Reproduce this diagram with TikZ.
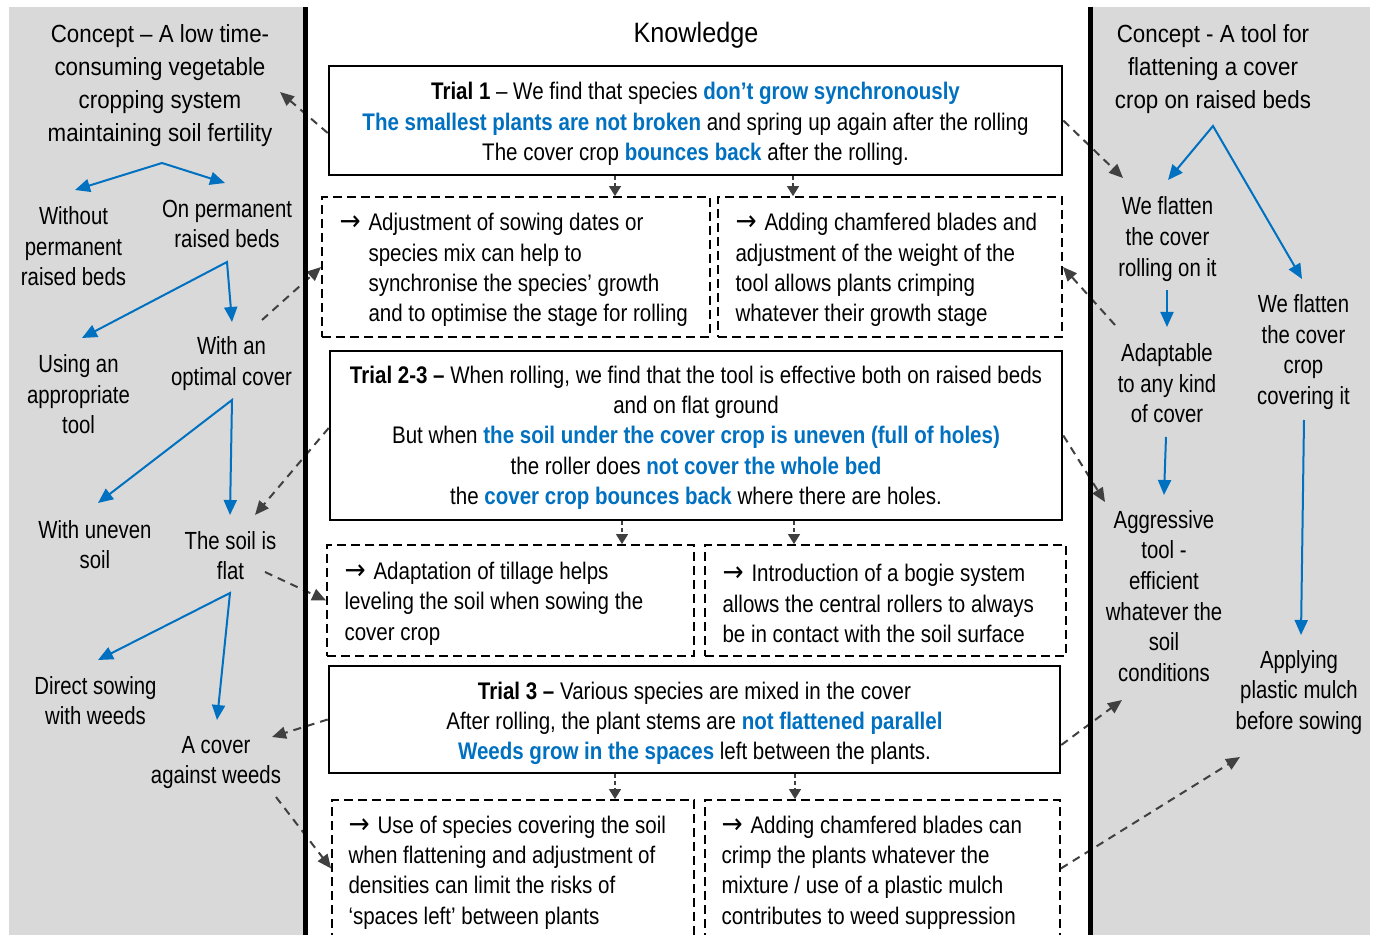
\documentclass[tikz,border=0pt]{standalone}
\usepackage{fontspec}
\setmainfont{Liberation Sans}[FakeStretch=0.855]
\newfontfamily\panf{Liberation Sans}[FakeStretch=0.82]
\newfontfamily\conf{Liberation Sans}[FakeStretch=0.9]
\newfontfamily\symf{DejaVu Sans}[FakeStretch=0.9]
\usetikzlibrary{arrows.meta,calc}
\definecolor{kblue}{HTML}{0070C0}
\definecolor{pgray}{HTML}{D9D9D9}
\definecolor{cgray}{HTML}{404040}
\newcommand\hb[1]{\textcolor{kblue}{\textbf{#1}}}
\newcommand\ra{\makebox[14.5pt][l]{\symf\fontsize{14}{14}\selectfont →}}
\newcommand\ind{\hspace*{14.5pt}}
\begin{document}
\begin{tikzpicture}[x=0.5pt,y=-0.5pt,
  barrow/.style={draw=kblue, line width=1pt, line join=miter, {Triangle[length=7.5pt,width=6.5pt]}-{Triangle[length=7.5pt,width=6.5pt]}},
  sarrow/.style={draw=kblue, line width=1pt, -{Triangle[length=7.5pt,width=6.5pt]}},
  conn/.style={draw=cgray, line width=1pt, dash pattern=on 4pt off 3pt, -{Triangle[length=7pt,width=6pt]}},
  down/.style={draw=cgray, line width=0.6pt, dash pattern=on 2pt off 1.5pt, -{Triangle[length=5pt,width=6pt]}},
  trialbox/.style={draw=black, line width=1.3pt, inner sep=0},
  ttext/.style={align=center, inner sep=0, font=\fontsize{12}{15.15}\selectfont},
  dbox/.style={draw=black, line width=0.9pt, dash pattern=on 4.5pt off 2.5pt, inner sep=0},
  btext/.style={anchor=west, align=left, inner sep=0, font=\fontsize{12}{15.15}\selectfont},
  ptext/.style={align=center, inner sep=0, font=\panf\fontsize{12.4}{15.3}\selectfont},
  ctext/.style={align=center, inner sep=0, font=\conf\fontsize{12.4}{16.5}\selectfont}]
\useasboundingbox (0,0) rectangle (1378,935);
\clip (0,0) rectangle (1378,935);
\fill[white] (0,0) rectangle (1378,935);
\fill[pgray] (9,7) rectangle (305,935);
\fill[pgray] (1090,7) rectangle (1370,935);

% centre column
\node[ctext, font=\conf\fontsize{14}{16}\selectfont] (know) at (696,35) {Knowledge};

\node[trialbox, minimum width=366.5pt, minimum height=54.5pt] (t1) at (695.5,120.5) {};
\node[ttext] (t1t) at ([shift={(0,3.5)}]t1.center)
 {\textbf{Trial 1} – We find that species \hb{don’t grow synchronously}\\
  \hb{The smallest plants are not broken} and spring up again after the rolling\\
  The cover crop \hb{bounces back} after the rolling.};

\node[dbox, minimum width=194pt, minimum height=70pt] (a1) at (516,267) {};
\node[btext] (a1t) at ([shift={(18,3)}]a1.west)
 {\ra Adjustment of sowing dates or\\\ind species mix can help to\\\ind synchronise the species' growth\\\ind and to optimise the stage for rolling};
\node[dbox, minimum width=172pt, minimum height=70pt] (a2) at (890,267) {};
\node[btext] (a2t) at ([shift={(18,3)}]a2.west)
 {\ra Adding chamfered blades and\\adjustment of the weight of the\\tool allows plants crimping\\whatever their growth stage};

\node[trialbox, minimum width=366pt, minimum height=84.5pt] (t2) at (696,435.5) {};
\node[ttext] (t2t) at ([shift={(0,2)}]t2.center)
 {\textbf{Trial 2-3 –} When rolling, we find that the tool is effective both on raised beds\\
  and on flat ground\\
  But when \hb{the soil under the cover crop is uneven (full of holes)}\\
  the roller does \hb{not cover the whole bed}\\
  the \hb{cover crop bounces back} where there are holes.};

\node[dbox, minimum width=183.5pt, minimum height=55.5pt] (b1) at (510.5,600.5) {};
\node[btext] (b1t) at ([shift={(18,3)}]b1.west)
 {\ra Adaptation of tillage helps\\leveling the soil when sowing the\\cover crop};
\node[dbox, minimum width=180.5pt, minimum height=55.5pt] (b2) at (885.5,600.5) {};
\node[btext] (b2t) at ([shift={(18,3)}]b2.west)
 {\ra Introduction of a bogie system\\allows the central rollers to always\\be in contact with the soil surface};

\node[trialbox, minimum width=365.5pt, minimum height=53.5pt] (t3) at (694.5,719.5) {};
\node[ttext] (t3t) at ([shift={(0,4)}]t3.center)
 {\textbf{Trial 3 –} Various species are mixed in the cover\\
  After rolling, the plant stems are \hb{not flattened parallel}\\
  \hb{Weeds grow in the spaces} left between the plants.};

\node[dbox, minimum width=181pt, minimum height=68.5pt] (c1) at (513,868.5) {};
\node[btext] (c1t) at ([shift={(17,4)}]c1.west)
 {\ra Use of species covering the soil\\when flattening and adjustment of\\densities can limit the risks of\\‘spaces left’ between plants};
\node[dbox, minimum width=177.5pt, minimum height=68.5pt] (c2) at (882.5,868.5) {};
\node[btext] (c2t) at ([shift={(17,4)}]c2.west)
 {\ra Adding chamfered blades can\\crimp the plants whatever the\\mixture / use of a plastic mulch\\contributes to weed suppression};

% left panel texts
\node[ctext] (concL) at (160,86) {Concept – A low time-\\consuming vegetable\\cropping system\\maintaining soil fertility};
\node[ptext] (without) at (73.5,246.5) {Without\\permanent\\raised beds};
\node[ptext] (onperm) at (227,224) {On permanent\\raised beds};
\node[ptext] (using) at (78.5,394.5) {Using an\\appropriate\\tool};
\node[ptext] (optimal) at (231.5,363.5) {With an\\optimal cover};
\node[ptext] (uneven) at (95,544.5) {With uneven\\soil};
\node[ptext] (flat) at (230.5,555.5) {The soil is\\flat};
\node[ptext] (direct) at (95.5,700.5) {Direct sowing\\with weeds};
\node[ptext] (acover) at (216,762.5) {A cover\\against weeds};

% right panel texts
\node[ctext] (concR) at (1213,69.5) {Concept - A tool for\\flattening a cover\\crop on raised beds};
\node[ptext] (flat1) at (1167.5,239) {We flatten\\the cover\\rolling on it};
\node[ptext] (adapt) at (1167,383.5) {Adaptable\\to any kind\\of cover};
\node[ptext] (aggr) at (1164,596) {Aggressive\\tool -\\efficient\\whatever the\\soil\\conditions};
\node[ptext] (flat2) at (1303.5,352) {We flatten\\the cover\\crop\\covering it};
\node[ptext] (apply) at (1299,692.5) {Applying\\plastic mulch\\before sowing};

% blue arrows
\draw[barrow] ([shift={(1.5,-56.5)}]without.center) -- ([shift={(2,77)}]concL.center) -- ([shift={(-2,-41)}]onperm.center);
\draw[barrow] ([shift={(3.5,-56.5)}]using.center) -- ([shift={(0,38)}]onperm.center) -- ([shift={(0.5,-41.5)}]optimal.center);
\draw[barrow] ([shift={(3,-41.5)}]uneven.center) -- ([shift={(0.5,36.5)}]optimal.center) -- ([shift={(-0.5,-40.5)}]flat.center);
\draw[barrow] ([shift={(2.5,-40.5)}]direct.center) -- ([shift={(-0.5,37.5)}]flat.center) -- ([shift={(1,-42.5)}]acover.center);
\draw[barrow] ([shift={(0.5,-59)}]flat1.center) -- ([shift={(0,56.5)}]concR.center) -- ([shift={(-1.5,-73)}]flat2.center);
\draw[sarrow] ([shift={(-0.5,51)}]flat1.center) -- ([shift={(0,-56.5)}]adapt.center);
\draw[sarrow] ([shift={(-1,53.5)}]adapt.center) -- ([shift={(0,-101)}]aggr.center);
\draw[sarrow] ([shift={(0.5,68)}]flat2.center) -- ([shift={(2,-57.5)}]apply.center);

% small downward arrows
\draw[down] ([shift={(-80.5,0)}]t1.south) -- ([shift={(99,0)}]a1.north);
\draw[down] ([shift={(97.5,0)}]t1.south) -- ([shift={(-97,0)}]a2.north);
\draw[down] ([shift={(-74,0)}]t2.south) -- ([shift={(111.5,0)}]b1.north);
\draw[down] ([shift={(98,0)}]t2.south) -- ([shift={(-91.5,0)}]b2.north);
\draw[down] ([shift={(-79.5,0)}]t3.south) -- ([shift={(102,0)}]c1.north);
\draw[down] ([shift={(100.5,0)}]t3.south) -- ([shift={(-87.5,0)}]c2.north);

% dashed connectors
\draw[conn] ([shift={(0,12.5)}]t1.west) -- ([shift={(120,6)}]concL.center);
\draw[conn] ([shift={(30.5,-43.5)}]optimal.center) -- (a1.west);
\draw[conn] ([shift={(0,-7.5)}]t2.west) -- ([shift={(24.5,-40.5)}]flat.center);
\draw[conn] ([shift={(34.5,16.5)}]flat.center) -- (b1.west);
\draw[conn] (t3.west) -- ([shift={(56,-25.5)}]acover.center);
\draw[conn] ([shift={(60,34.5)}]acover.center) -- (c1.west);
\draw[conn] (t1.east) -- ([shift={(-44.5,-61)}]flat1.center);
\draw[conn] ([shift={(-52,-58.5)}]adapt.center) -- (a2.east);
\draw[conn] (t2.east) -- ([shift={(-59,-94)}]aggr.center);
\draw[conn] ([shift={(0,25.5)}]t3.east) -- ([shift={(-42,104)}]aggr.center);
\draw[conn] (c2.east) -- ([shift={(-59,64.5)}]apply.center);

% thick separators
\draw[line width=2.5pt] (305.5,7) -- (305.5,935);
\draw[line width=2.5pt] (1090.5,7) -- (1090.5,935);
\end{tikzpicture}
\end{document}
